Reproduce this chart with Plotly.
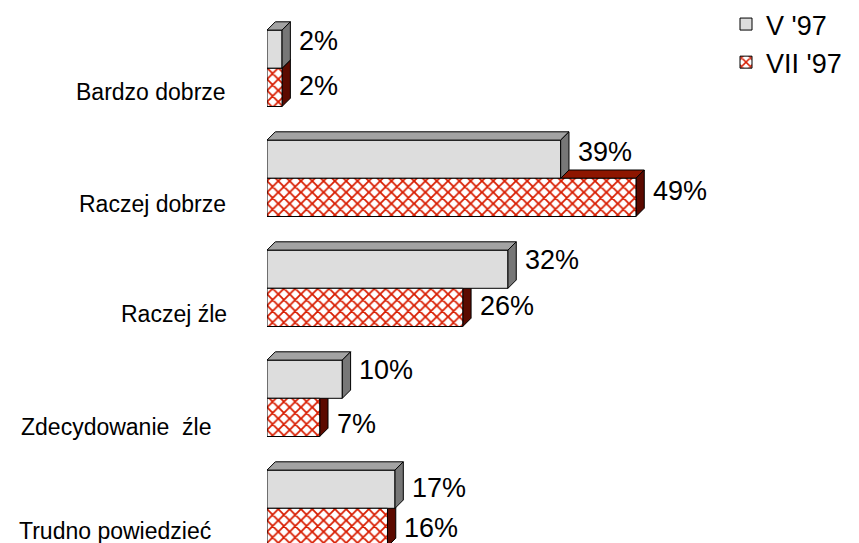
import plotly.graph_objects as go

# ---- data ----
categories = ["Bardzo dobrze", "Raczej dobrze", "Raczej źle", "Zdecydowanie  źle", "Trudno powiedzieć"]
series_names = ["V '97", "VII '97"]
v_may = [2, 39, 32, 10, 17]
v_jul = [2, 49, 26, 7, 16]

# ---- layout / style constants ----
W, H = 859, 543
ML = 267
PX_PER_PCT = 7.53
PX_PER_CAT = 110.0
FIRST_CENTER_PX = 68.3
X_MAX = (W - ML) / PX_PER_PCT
Y_TOP = -FIRST_CENTER_PX / PX_PER_CAT
Y_BOTTOM = (H - FIRST_CENTER_PX) / PX_PER_CAT
BAR_PX = 38.2
BW = BAR_PX / PX_PER_CAT
BARGAP = 1 - 2 * BW
DEPTH_PX = 8.3
DX = DEPTH_PX / PX_PER_PCT
DY = DEPTH_PX / PX_PER_CAT
LABEL_RIGHT_PX = [227, 227, 228, 213, 212]
LABEL_DY_PX = [-23.5, -25.5, -25.5, -28.8, -22.8]
VAL1_DY_PX = [27.3, 26.5, 28.2, 28.5, 20.5]
VAL2_DY_PX = [-17.8, -12.3, -17.8, -26.0, -20.0]

FONT = "Liberation Sans, Arial, sans-serif"
GRAY_FRONT = "#DDDDDD"
GRAY_TOP = "#A3A3A3"
GRAY_SIDE = "#777777"
RED_PAT = "#D81C00"
RED_TOP = "#8E1600"
RED_SIDE = "#5C0A00"

ypos = list(range(len(categories)))

fig = go.Figure()
fig.add_trace(go.Bar(
    name=series_names[0], x=v_may, y=ypos, orientation="h",
    marker=dict(color=GRAY_FRONT, line=dict(color="black", width=1)),
    hoverinfo="skip",
))
fig.add_trace(go.Bar(
    name=series_names[1], x=v_jul, y=ypos, orientation="h",
    marker=dict(color="white", line=dict(color="black", width=1),
                pattern=dict(shape="x", fgcolor=RED_PAT, bgcolor="white", fgopacity=1,
                             fillmode="replace", size=8, solidity=0.4)),
    hoverinfo="skip",
))


def poly(pts):
    return "M " + " L ".join(f"{x},{y}" for x, y in pts) + " Z"


shapes = []
for i, (a, b) in enumerate(zip(v_may, v_jul)):
    # series 2 (lower bar): top and side faces, beneath the bars
    top = i
    bot = i + BW
    shapes.append(dict(type="path", layer="below", xref="x", yref="y",
                       path=poly([(0, top), (b, top), (b + DX, top - DY), (DX, top - DY)]),
                       fillcolor=RED_TOP, line=dict(color="black", width=1)))
    shapes.append(dict(type="path", layer="below", xref="x", yref="y",
                       path=poly([(b, top), (b + DX, top - DY), (b + DX, bot - DY), (b, bot)]),
                       fillcolor=RED_SIDE, line=dict(color="black", width=1)))
    # series 1 (upper bar): top and side faces, above
    top = i - BW
    bot = i
    shapes.append(dict(type="path", layer="above", xref="x", yref="y",
                       path=poly([(0, top), (a, top), (a + DX, top - DY), (DX, top - DY)]),
                       fillcolor=GRAY_TOP, line=dict(color="black", width=1)))
    shapes.append(dict(type="path", layer="above", xref="x", yref="y",
                       path=poly([(a, top), (a + DX, top - DY), (a + DX, bot - DY), (a, bot)]),
                       fillcolor=GRAY_SIDE, line=dict(color="black", width=1)))

annotations = []
for i, (a, b) in enumerate(zip(v_may, v_jul)):
    annotations.append(dict(x=a, y=i, xref="x", yref="y", text=f"{a}%", showarrow=False,
                            xanchor="left", yanchor="middle", xshift=15, yshift=VAL1_DY_PX[i],
                            font=dict(family=FONT, size=27, color="black")))
    annotations.append(dict(x=b, y=i, xref="x", yref="y", text=f"{b}%", showarrow=False,
                            xanchor="left", yanchor="middle", xshift=15, yshift=VAL2_DY_PX[i],
                            font=dict(family=FONT, size=27, color="black")))
for i, cat in enumerate(categories):
    annotations.append(dict(x=0, y=i, xref="paper", yref="y", text=cat, showarrow=False,
                            xanchor="right", yanchor="middle", xshift=LABEL_RIGHT_PX[i] - ML + 1,
                            yshift=LABEL_DY_PX[i], font=dict(family=FONT, size=23, color="black")))

fig.update_layout(
    width=W, height=H, autosize=False,
    margin=dict(l=ML, r=0, t=0, b=0),
    paper_bgcolor="white", plot_bgcolor="white",
    barmode="group", bargap=BARGAP, bargroupgap=0,
    xaxis=dict(range=[0, X_MAX], visible=False, fixedrange=True),
    yaxis=dict(range=[Y_BOTTOM, Y_TOP], showticklabels=False, showgrid=False,
               zeroline=False, showline=False, ticks="", fixedrange=True),
    shapes=shapes,
    annotations=annotations,
    showlegend=True,
    legend=dict(x=(726 - ML) / (W - ML), y=1.0, xanchor="left", yanchor="top",
                xref="paper", yref="paper", traceorder="normal",
                font=dict(family=FONT, size=27, color="black"),
                bgcolor="rgba(0,0,0,0)", borderwidth=0, itemwidth=30),
    font=dict(family=FONT),
)

fig.write_html("out.html", config={"displayModeBar": False},
               post_script="document.body.style.margin='0';document.body.style.padding='0';")
